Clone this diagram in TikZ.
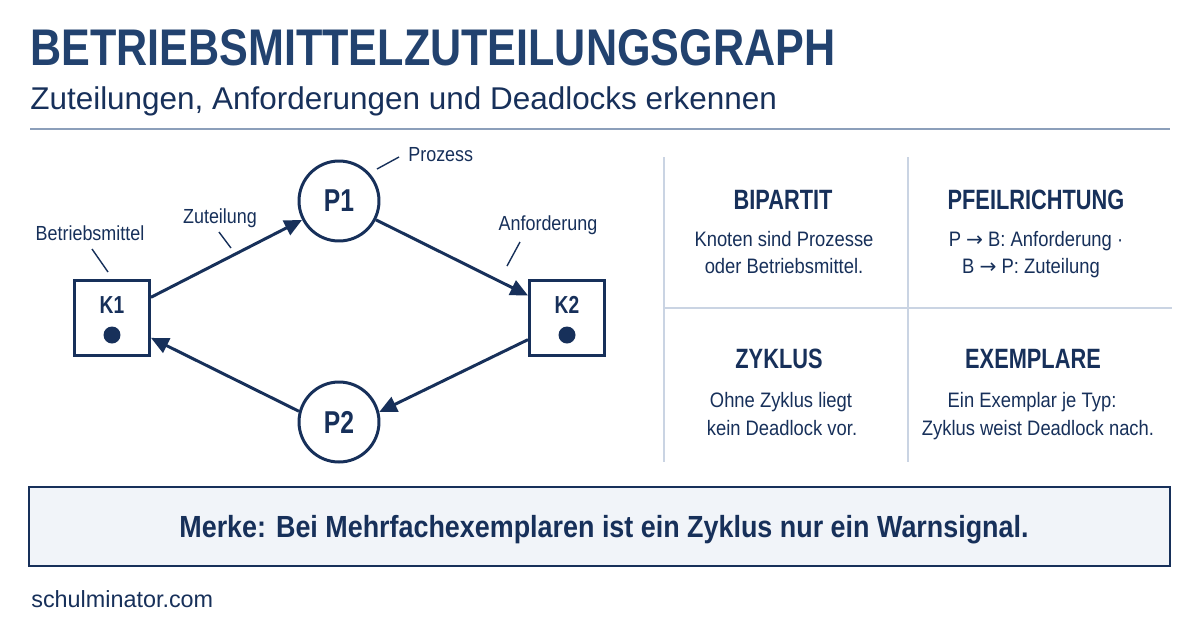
\documentclass[tikz,border=0pt]{standalone}
\usepackage{fontspec}
\setmainfont{Liberation Sans}
\newfontfamily\condfont[FakeStretch=0.88]{Liberation Sans}
\newfontfamily\headfont[FakeStretch=0.78]{Liberation Sans}
\newfontfamily\pfeilfont{DejaVu Sans}
\usetikzlibrary{arrows.meta}

\definecolor{titelblau}{HTML}{22426F}
\definecolor{navy}{HTML}{17305A}
\definecolor{gitter}{HTML}{CAD4E3}
\definecolor{trenn}{HTML}{8C9FBA}
\definecolor{kasten}{HTML}{F1F4F9}

\newcommand{\pf}{{\pfeilfont\fontsize{11.5}{11.5}\selectfont →}}

\tikzset{
  prozess/.style={circle, draw=navy, line width=1.7pt, minimum size=1.6cm, inner sep=0pt,
    text=navy, font=\headfont\bfseries\fontsize{18}{18}\selectfont},
  ressource/.style={rectangle, draw=navy, line width=1.7pt, minimum size=1.5cm, inner sep=0pt},
  ktext/.style={anchor=base, inner sep=0pt, text=navy, font=\headfont\bfseries\fontsize{14}{14}\selectfont},
  exemplar/.style={circle, fill=navy, minimum size=0.34cm, inner sep=0pt},
  kante/.style={navy, line width=1.7pt, -{Triangle[length=10pt,width=9pt]}},
  hinweis/.style={anchor=base, inner sep=0pt, text=navy, font=\condfont\fontsize{11.6}{11.6}\selectfont},
  zeiger/.style={navy, line width=0.8pt},
  kopf/.style={anchor=base, inner sep=0pt, text=navy, font=\headfont\bfseries\fontsize{15.9}{15.9}\selectfont},
  rumpf/.style={anchor=base, inner sep=0pt, text=navy, font=\condfont\fontsize{11.9}{11.9}\selectfont},
}

\begin{document}
\begin{tikzpicture}[x=0.02cm, y=-0.02cm]
  \useasboundingbox (0,0) rectangle (1200,630);
  \fill[white] (0,0) rectangle (1200,630);

% title and subtitle
  \node[anchor=base west, inner sep=0pt, text=titelblau] (titel) at (30,65)
    {\resizebox{16.1cm}{0.72cm}{\headfont\bfseries BETRIEBSMITTELZUTEILUNGSGRAPH}};
  \node[anchor=base west, inner sep=0pt, text=navy, font=\fontsize{17.9}{17.9}\selectfont] (untertitel) at (30,109)
    {Zuteilungen, Anforderungen und Deadlocks erkennen};
  \draw[trenn, line width=1.1pt] (30,129) -- (1170,129);

% allocation graph
  \node[prozess] (P1) at (339,201) {P1};
  \node[prozess] (P2) at (339,422) {P2};
  \node[ressource] (K1) at (112,318) {};
  \node[ressource] (K2) at (567,318) {};
  \node[ktext] (K1t) at (112,313) {K1};
  \node[ktext] (K2t) at (567,313) {K2};
  \node[exemplar] (K1e) at (112,335) {};
  \node[exemplar] (K2e) at (567,335) {};

  \draw[kante] (K1.28) -- (P1);
  \draw[kante] (P1.-27) -- (K2.150);
  \draw[kante] (K2.209) -- (P2.14);
  \draw[kante] (P2.165) -- (K1.-27);

% labels with leader lines
  \node[hinweis, anchor=base west] (lprozess) at (408,161) {Prozess};
  \node[hinweis] (lbetrieb) at (90,240) {Betriebsmittel};
  \node[hinweis] (lzuteil) at (220,223) {Zuteilung};
  \node[hinweis] (lanford) at (548,230) {Anforderung};
  \draw[zeiger] (377,169) -- (399,157);
  \draw[zeiger] (92,249) -- (108,272);
  \draw[zeiger] (219,232) -- (231,248);
  \draw[zeiger] (520,242) -- (507,266);

% facts grid
  \draw[gitter, line width=0.9pt] (664,157) -- (664,462);
  \draw[gitter, line width=0.9pt] (908,157) -- (908,462);
  \draw[gitter, line width=0.9pt] (664,308) -- (1172,308);

  \node[kopf] (bipartit) at (783,209) {BIPARTIT};
  \node[rumpf] (bip1) at (784,246) {Knoten sind Prozesse};
  \node[rumpf] (bip2) at (784,273) {oder Betriebsmittel.};

  \node[kopf] (pfeil) at (1036,209) {PFEILRICHTUNG};
  \node[rumpf] (pfeil1) at (1036,246) {P \pf{} B: Anforderung ·};
  \node[rumpf] (pfeil2) at (1031,273) {B \pf{} P: Zuteilung};

  \node[kopf] (zyklus) at (779,368) {ZYKLUS};
  \node[rumpf] (zyk1) at (781,407) {Ohne Zyklus liegt};
  \node[rumpf] (zyk2) at (782,435) {kein Deadlock vor.};

  \node[kopf] (exemplare) at (1033,368) {EXEMPLARE};
  \node[rumpf] (ex1) at (1032,407) {Ein Exemplar je Typ:};
  \node[rumpf] (ex2) at (1038,435) {Zyklus weist Deadlock nach.};

% note box
  \draw[navy, fill=kasten, line width=0.9pt] (29,487) rectangle (1170,566);
  \node[anchor=base, inner sep=0pt, text=navy, font=\condfont\bfseries\fontsize{17.4}{17.4}\selectfont] (merke) at (604,537)
    {Merke: Bei Mehrfachexemplaren ist ein Zyklus nur ein Warnsignal.};

% footer
  \node[anchor=base west, inner sep=0pt, text=navy, font=\fontsize{13.3}{13.3}\selectfont] (quelle) at (31,607) {schulminator.com};
\end{tikzpicture}
\end{document}
